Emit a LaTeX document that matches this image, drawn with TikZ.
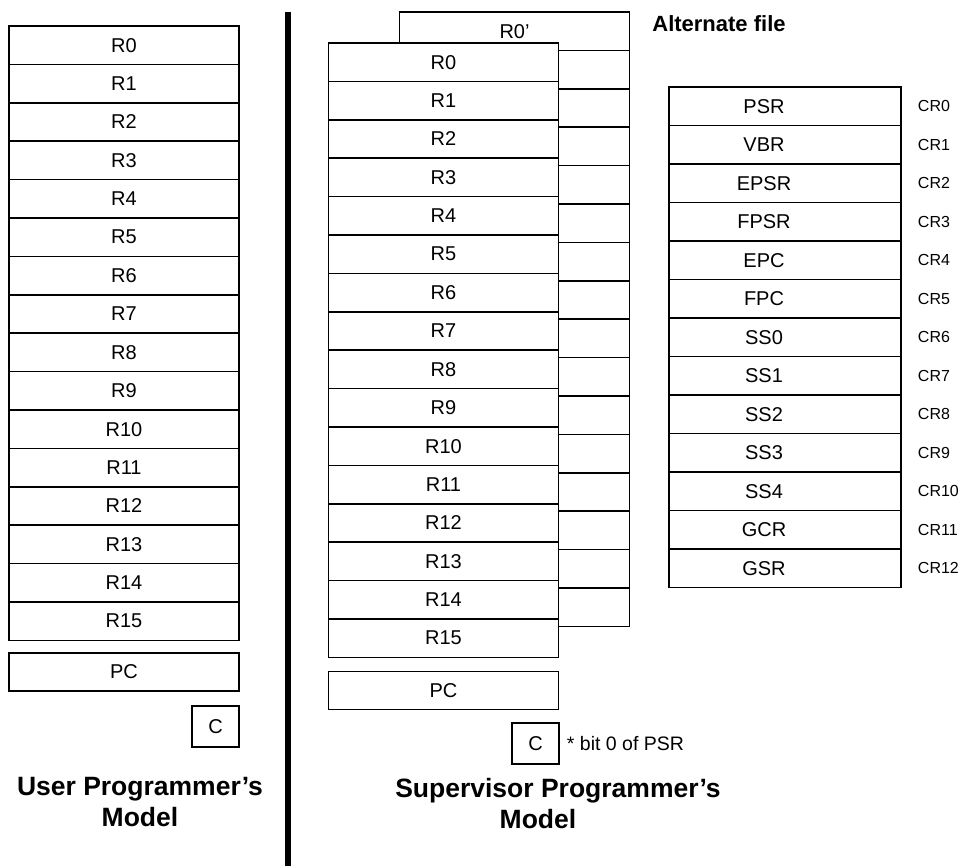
\documentclass[tikz,border=0pt]{standalone}
\usepackage{fontspec}
\setmainfont{Liberation Sans}
\usetikzlibrary{positioning}

\tikzset{
  reg/.style={draw, line width=1.5pt, fill=white, minimum width=230pt,
    minimum height=38.4pt, inner sep=0pt, font=\fontsize{20}{24}\selectfont},
  ctl/.style={reg, minimum width=232pt, minimum height=38.5pt},
  cbox/.style={draw, line width=1.5pt, fill=white, minimum width=47pt,
    minimum height=41pt, inner sep=0pt, font=\fontsize{20}{24}\selectfont},
  crlbl/.style={inner sep=0pt, font=\fontsize{16}{19}\selectfont},
  regname/.style={inner sep=0pt, font=\fontsize{20}{24}\selectfont},
  note/.style={inner sep=0pt, font=\fontsize{19.5}{23}\selectfont},
  title/.style={align=center, inner sep=0pt, font=\fontsize{26.5}{31}\selectfont\bfseries},
}

\begin{document}
\begin{tikzpicture}[x=1pt, y=-1pt]
  \useasboundingbox (0,0) rectangle (971,866);

  % user model
  \foreach \i in {0,...,15}
    \node[reg] (u\i) at (124,45.2+38.4*\i) {R\i};
  \node[reg, minimum height=38pt] (upc) at (124,672) {PC};
  \node[cbox] (uc) at (215.5,726.5) {C};
  \node[title] (utitle) at (140,802) {User Programmer’s\\Model};

  % separator
  \coordinate (bartop) at (288,12);
  \coordinate (barbot) at (288,866);
  \draw[line width=6pt] (bartop) -- (barbot);

  % alternate file (behind)
  \node[reg] (a0) at (514.5,31.2) {R0’};
  \foreach \i in {1,...,15}
    \node[reg] (a\i) at (514.5,31.2+38.4*\i) {};
  \node[title, font=\fontsize{22}{26}\selectfont\bfseries] (altname) at (719,24) {Alternate file};

  % supervisor model
  \foreach \i in {0,...,15}
    \node[reg] (s\i) at (443.5,62.2+38.4*\i) {R\i};
  \node[reg] (spc) at (443.5,690.5) {PC};
  \node[cbox] (sc) at (535.5,743.5) {C};
  \node[note, right=7pt of sc] (psrnote) {* bit 0 of PSR};
  \node[title] (stitle) at (558,804) {Supervisor Programmer’s\\Model\hspace*{40pt}};

  % control registers
  \foreach \nm [count=\i from 0] in {PSR,VBR,EPSR,FPSR,EPC,FPC,SS0,SS1,SS2,SS3,SS4,GCR,GSR} {
    \node[ctl] (c\i) at (785,106.25+38.5*\i) {};
    \node[regname] (cn\i) at ([xshift=-21pt]c\i.center) {\nm};
    \node[crlbl, right=16pt of c\i] (crl\i) {CR\i};
  }
\end{tikzpicture}
\end{document}
